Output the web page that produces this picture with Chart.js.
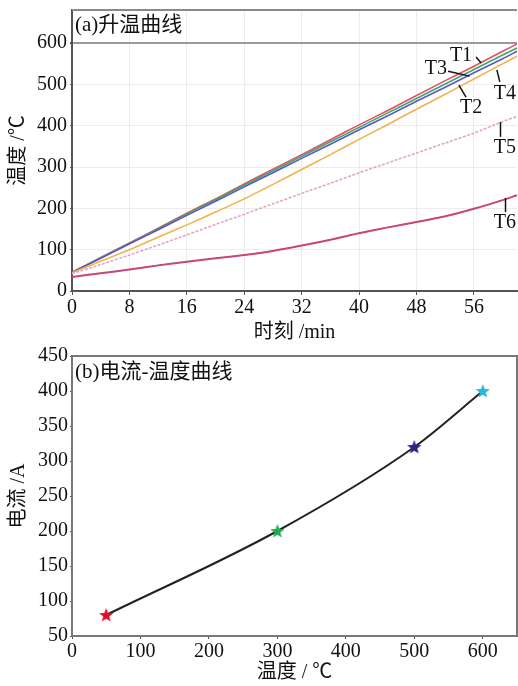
<!DOCTYPE html>
<html>
<head>
<meta charset="utf-8">
<script src="https://cdn.jsdelivr.net/npm/chart.js@4.4.1/dist/chart.umd.min.js"></script>
<style>
    html, body { margin: 0; padding: 0; background: #fff; }
    #wrapA { position: absolute; left: 0; top: 0; width: 518px; height: 345px; }
    #wrapB { position: absolute; left: 0; top: 345px; width: 518px; height: 341px; }
</style>
</head>
<body>
<div id="wrapA"><canvas id="heatChart"></canvas></div>
<div id="wrapB"><canvas id="currentChart"></canvas></div>
<script>
// (a) heating curves, time in min, temperature in degC
const timeMin = [0, 4, 8, 12, 16, 20, 24, 28, 32, 36, 40, 44, 48, 52, 56, 60, 62];
const tempT1 = [45, 81, 116, 152, 188, 223, 259, 295, 330, 366, 402, 437, 473, 509, 544, 580, 598];
const tempT2 = [45, 79, 114, 148, 183, 217, 252, 286, 321, 355, 390, 424, 459, 493, 528, 562, 580];
const tempT3 = [45, 80, 115, 150, 186, 221, 256, 291, 326, 361, 396, 431, 466, 501, 536, 571, 588];
const tempT4 = [44, 72, 100, 130, 160, 191, 223, 258, 294, 330, 367, 403, 440, 476, 513, 550, 568];
const tempT5 = [42, 64, 87, 111, 136, 161, 186, 211, 236, 261, 286, 310, 334, 358, 382, 410, 422];
const tempT6 = [34, 43, 52, 62, 71, 79, 87, 97, 110, 124, 140, 154, 167, 181, 199, 220, 232];

// (b) current vs temperature
const tempC = [50, 300, 500, 600];
const currentA = [80, 200, 320, 400];

const serifFont = '"Liberation Serif", "Noto Sans CJK SC", serif';

// tags beside the curve ends (data coordinates)
const seriesTags = [
    { text: 'T1', x: 54.2, y: 569, from: [56.3, 566], to: [57.0, 552] },
    { text: 'T3', x: 50.7, y: 537, from: [52.4, 532], to: [55.4, 520] },
    { text: 'T2', x: 55.6, y: 443, from: [53.9, 498], to: [54.9, 469] },
    { text: 'T4', x: 60.3, y: 477, from: [59.2, 535], to: [59.6, 506] },
    { text: 'T5', x: 60.3, y: 346, from: [59.7, 409], to: [59.7, 373] },
    { text: 'T6', x: 60.3, y: 165, from: [60.4, 225], to: [60.4, 191] }
];

const starColors = ['#e3102c', '#1faf4f', '#3b1b8e', '#27b7d7'];

function makeStar(color) {
    const c = document.createElement('canvas');
    c.width = 16; c.height = 16;
    const g = c.getContext('2d');
    g.fillStyle = color;
    g.beginPath();
    for (let i = 0; i < 10; i++) {
        const r = i % 2 === 0 ? 7.5 : 3.2;
        const a = -Math.PI / 2 + i * Math.PI / 5;
        g.lineTo(8 + r * Math.cos(a), 8.5 + r * Math.sin(a));
    }
    g.closePath();
    g.fill();
    return c;
}

// panel caption + frame lines
const panelPlugin = {
    id: 'panel',
    afterDraw(chart, args, opts) {
        const { ctx, chartArea } = chart;
        ctx.save();
        ctx.strokeStyle = opts.frameColor || '#888';
        ctx.lineWidth = 2;
        ctx.beginPath();
        ctx.moveTo(chartArea.left, chartArea.top);
        ctx.lineTo(chartArea.right, chartArea.top);
        if (opts.rightEdge) ctx.lineTo(chartArea.right, chartArea.bottom);
        ctx.stroke();
        ctx.fillStyle = '#111';
        ctx.font = '21px ' + serifFont;
        ctx.textBaseline = 'middle';
        ctx.fillText(opts.text, chartArea.left + 3, chartArea.top + opts.dy);
        ctx.restore();
    }
};

const tagPlugin = {
    id: 'tags',
    afterDatasetsDraw(chart) {
        if (chart.canvas.id !== 'heatChart') return;
        const { ctx, scales: { x, y } } = chart;
        ctx.save();
        ctx.strokeStyle = '#111';
        ctx.lineWidth = 1.5;
        ctx.fillStyle = '#111';
        ctx.font = '20px ' + serifFont;
        ctx.textAlign = 'center';
        ctx.textBaseline = 'middle';
        seriesTags.forEach(t => {
            ctx.beginPath();
            ctx.moveTo(x.getPixelForValue(t.from[0]), y.getPixelForValue(t.from[1]));
            ctx.lineTo(x.getPixelForValue(t.to[0]), y.getPixelForValue(t.to[1]));
            ctx.stroke();
            ctx.fillText(t.text, x.getPixelForValue(t.x), y.getPixelForValue(t.y));
        });
        ctx.restore();
    }
};

function toPoints(xs, ys) {
    return xs.map((v, i) => ({ x: v, y: ys[i] }));
}

function heatLine(label, values, color, width, dash) {
    return {
        label: label,
        data: toPoints(timeMin, values),
        borderColor: color,
        borderWidth: width,
        borderDash: dash || [],
        pointRadius: 0,
        tension: 0.2
    };
}

// keep only ticks on a whole step (no extra tick at the axis max)
const onStep = step => s => {
    s.ticks = s.ticks.filter(t => Math.abs(t.value / step - Math.round(t.value / step)) < 1e-6);
};

const tickFont = { family: serifFont, size: 20 };
const titleFont = { family: serifFont, size: 20, lineHeight: 1 };
// fixed axis boxes, so the plot area lands where the reference has it
const fixX = h => s => { s.height = h; s.paddingLeft = 0; s.paddingRight = 0; };
const fixY = s => { s.width = 72; s.paddingTop = 0; s.paddingBottom = 0; };

new Chart(document.getElementById('heatChart'), {
    type: 'line',
    data: {
        datasets: [
            heatLine('T6', tempT6, '#c9457c', 2),
            heatLine('T6', tempT6, 'rgba(45,15,30,0.8)', 1, [4, 4]),
            heatLine('T5', tempT5, '#dfa6c8', 1.6, [3, 1.5]),
            heatLine('T4', tempT4, '#f2b24e', 1.6),
            heatLine('T2', tempT2, '#5b58c6', 1.6),
            heatLine('T3', tempT3, '#3fa85e', 1.6),
            heatLine('T1', tempT1, '#e2506c', 1.6)
        ]
    },
    options: {
        responsive: true,
        maintainAspectRatio: false,
        animation: false,
        layout: { autoPadding: false, padding: { top: 10, right: 1, left: 0, bottom: 0 } },
        plugins: {
            legend: { display: false },
            tooltip: { enabled: false },
            panel: { text: '(a)升温曲线', dy: 15, frameColor: '#8a8a8a' }
        },
        scales: {
            x: {
                type: 'linear',
                min: 0,
                max: 62,
                afterBuildTicks: onStep(8),
                afterFit: fixX(54),
                ticks: { stepSize: 8, includeBounds: false, color: '#111', font: tickFont, padding: 1, maxRotation: 0 },
                grid: { color: '#ececec', tickColor: '#555', tickLength: 4 },
                border: { color: '#555', width: 2 },
                title: { display: true, text: '时刻 /min', color: '#111', font: titleFont, padding: { top: 0, bottom: 2 } }
            },
            y: {
                min: 0,
                max: 680,
                afterBuildTicks: onStep(100),
                afterFit: fixY,
                ticks: { stepSize: 100, includeBounds: false, color: '#111', font: tickFont, padding: 3 },
                grid: {
                    color: c => (c.tick && c.tick.value === 600) ? '#9a9a9a' : '#ececec',
                    lineWidth: c => (c.tick && c.tick.value === 600) ? 2 : 1,
                    tickColor: '#555',
                    tickLength: 2
                },
                border: { color: '#555', width: 2 },
                title: { display: true, text: '温度 /℃', color: '#111', font: titleFont, padding: { top: 9, bottom: 0 } }
            }
        }
    },
    plugins: [panelPlugin, tagPlugin]
});

new Chart(document.getElementById('currentChart'), {
    type: 'line',
    data: {
        datasets: [{
            label: '电流',
            data: toPoints(tempC, currentA),
            borderColor: '#222',
            borderWidth: 2,
            cubicInterpolationMode: 'monotone',
            pointStyle: starColors.map(makeStar),
            pointRadius: 8
        }]
    },
    options: {
        responsive: true,
        maintainAspectRatio: false,
        animation: false,
        layout: { autoPadding: false, padding: { top: 11, right: 1, left: 0, bottom: 0 } },
        plugins: {
            legend: { display: false },
            tooltip: { enabled: false },
            panel: { text: '(b)电流-温度曲线', dy: 16, frameColor: '#777', rightEdge: true }
        },
        scales: {
            x: {
                type: 'linear',
                min: 0,
                max: 650,
                afterBuildTicks: onStep(100),
                afterFit: fixX(50),
                ticks: { stepSize: 100, includeBounds: false, color: '#111', font: tickFont, padding: 1, maxRotation: 0 },
                grid: { drawOnChartArea: false, tickColor: '#555', tickLength: 3 },
                border: { color: '#777', width: 2 },
                title: { display: true, text: '温度 / ℃', color: '#111', font: titleFont, padding: { top: 0, bottom: 3 } }
            },
            y: {
                min: 50,
                max: 450,
                afterFit: fixY,
                ticks: { stepSize: 50, color: '#111', font: tickFont, padding: 2 },
                grid: { drawOnChartArea: false, tickColor: '#555', tickLength: 2 },
                border: { color: '#777', width: 2 },
                title: { display: true, text: '电流 /A', color: '#111', font: titleFont, padding: { top: 9, bottom: 0 } }
            }
        }
    },
    plugins: [panelPlugin]
});
</script>
</body>
</html>
